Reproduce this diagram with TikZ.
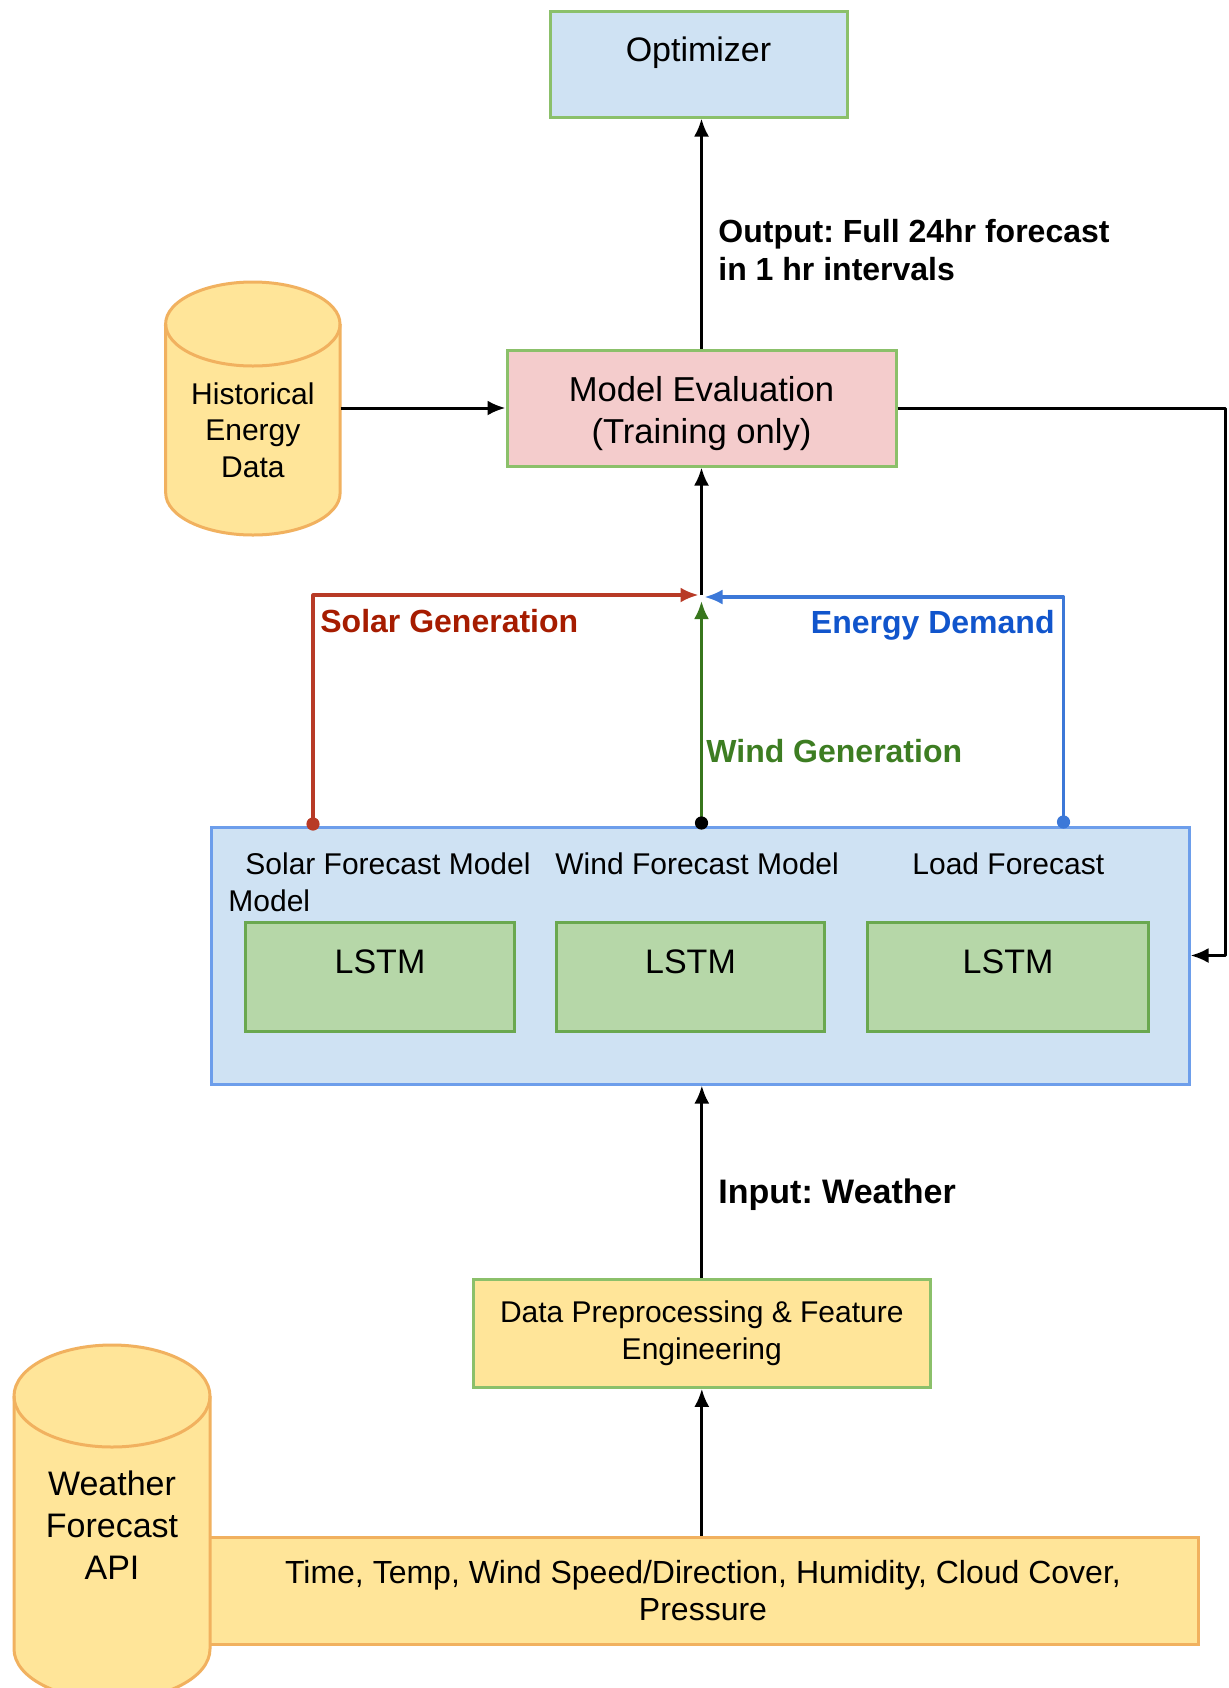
\documentclass[tikz,border=0pt]{standalone}
\usepackage{fontspec}
\setmainfont{Liberation Sans}
\usetikzlibrary{arrows.meta,calc}

\definecolor{lightblue}{HTML}{CFE2F3}
\definecolor{greenedge}{HTML}{8BC06A}
\definecolor{pinkfill}{HTML}{F4CCCC}
\definecolor{groupedge}{HTML}{6D9EEB}
\definecolor{lstmfill}{HTML}{B6D7A8}
\definecolor{lstmedge}{HTML}{6AA84F}
\definecolor{yellowfill}{HTML}{FFE599}
\definecolor{orangeedge}{HTML}{F1B15F}
\definecolor{solarline}{HTML}{B83A26}
\definecolor{solartext}{HTML}{A61C00}
\definecolor{loadline}{HTML}{3C78D8}
\definecolor{loadtext}{HTML}{1155CC}
\definecolor{windline}{HTML}{38761D}
\definecolor{windtext}{HTML}{3D7D22}

\tikzset{
  box/.style={draw, rectangle, line width=1.5pt, inner sep=0pt},
  lstm/.style={box, fill=lstmfill, draw=lstmedge, minimum height=54.35pt},
  cyl/.style={fill=yellowfill, draw=orangeedge, line width=1.5pt},
  conn/.style={line width=1.5pt, line join=round, -{Latex[length=9pt,width=7.5pt]}},
  flow/.style={line width=1.6pt, line join=round, -{Latex[length=9pt,width=7.5pt]}},
  lbl/.style={inner sep=0pt, font=\bfseries\fontsize{16}{18.8}\selectfont},
  big/.style={font=\fontsize{17}{21}\selectfont},
  plain/.style={inner sep=0pt, font=\fontsize{15}{18.5}\selectfont}
}

\begin{document}
\frenchspacing
\begin{tikzpicture}[x=0.5pt, y=-0.5pt]
\useasboundingbox (0,0) rectangle (1228,1688);
\fill[white] (0,0) rectangle (1228,1688);

% top: optimizer and evaluation
\node[box, fill=lightblue, draw=greenedge, minimum width=148.5pt, minimum height=53pt,
      label={[name=opttext, inner sep=0pt, yshift=5.5pt, big]center:Optimizer}] (opt) at (698.5,64) {};
\node[box, fill=pinkfill, draw=greenedge, minimum width=194.5pt, minimum height=58pt] (eval) at (701.5,408) {};
\node[inner sep=0pt, align=center, font=\fontsize{17.3}{21}\selectfont] (evaltext) at (701.5,413.5)
      {Model Evaluation\\(Training only)};

% historical data store
\node[minimum width=87.2pt, minimum height=126.5pt, inner sep=0pt] (hist) at (252.9,408.5) {};
\path[cyl] (165.7,324) -- (165.7,493)
  arc[start angle=180, end angle=360, x radius=43.6pt, y radius=21pt]
  -- (340,324)
  arc[start angle=0, end angle=180, x radius=43.6pt, y radius=21pt] -- cycle;
\draw[draw=orangeedge, line width=1.5pt] (165.7,324)
  arc[start angle=180, end angle=360, x radius=43.6pt, y radius=21pt];
\node[plain, align=center, font=\fontsize{15}{18.3}\selectfont] (histtext) at (252.9,430)
  {Historical\\Energy\\Data};

% forecasting models group
\node[box, fill=lightblue, draw=groupedge, minimum width=489pt, minimum height=128.5pt] (models) at (700,955.5) {};
\node[plain, anchor=west, align=left] (solarname) at (228,882.5)
  {\hspace*{8.5pt}Solar Forecast Model\\Model};
\node[plain, anchor=west] (windname) at (555,864) {Wind Forecast Model};
\node[plain, anchor=west] (loadname) at (912,864) {Load Forecast};

\node[lstm, minimum width=134.5pt,
      label={[name=lstmAtext, inner sep=0pt, yshift=7.5pt, big]center:LSTM}] (lstmA) at (380,976.8) {};
\node[lstm, minimum width=134pt,
      label={[name=lstmBtext, inner sep=0pt, yshift=7.5pt, big]center:LSTM}] (lstmB) at (690.5,976.8) {};
\node[lstm, minimum width=140.5pt,
      label={[name=lstmCtext, inner sep=0pt, yshift=7.5pt, big]center:LSTM}] (lstmC) at (1008,976.8) {};

% preprocessing and raw inputs
\node[box, fill=yellowfill, draw=greenedge, minimum width=228.2pt, minimum height=53.8pt,
      align=center, font=\fontsize{15}{18.3}\selectfont] (prep) at (701.8,1333.5)
      {Data Preprocessing \& Feature\\Engineering};
\node[box, fill=yellowfill, draw=orangeedge, minimum width=495pt, minimum height=53.8pt,
      align=center, font=\fontsize{16}{18.3}\selectfont] (inputs) at (703,1590.8)
      {Time, Temp, Wind Speed/Direction, Humidity, Cloud Cover,\\Pressure};

% weather API store
\node[minimum width=98pt, minimum height=177.5pt, inner sep=0pt] (wapi) at (112,1522.5) {};
\path[cyl] (14,1396) -- (14,1649)
  arc[start angle=180, end angle=360, x radius=49pt, y radius=25.5pt]
  -- (210,1396)
  arc[start angle=0, end angle=180, x radius=49pt, y radius=25.5pt] -- cycle;
\draw[draw=orangeedge, line width=1.5pt] (14,1396)
  arc[start angle=180, end angle=360, x radius=49pt, y radius=25.5pt];
\node[inner sep=0pt, align=center, big] (wapitext) at (112,1525)
  {Weather\\Forecast\\API};

% connectors
\coordinate (J) at (701.5,595);
\coordinate (Jb) at (701.5,597);
\coordinate (Jw) at (701.5,601);
\coordinate (rt) at (1225,955.5);
\coordinate (sdot) at (313,824);
\coordinate (wdot) at (701.5,823);
\coordinate (ldot) at (1063.5,822);

\draw[conn] (inputs.north -| prep.south) -- (prep.south);
\draw[conn] (prep.north) -- (prep.north |- models.south);
\draw[conn] (hist.east |- eval.west) -- (eval.west);
\draw[conn] (J) -- (eval.south);
\draw[conn] (eval.north) -- (eval.north |- opt.south);
\draw[conn] (eval.east) -| (rt) -- (models.east);

\draw[flow, solarline, shorten >=1.5pt] (sdot) |- (J);
\draw[flow, loadline, shorten >=1.5pt] (ldot) |- (Jb);
\draw[flow, windline] (wdot) -- (Jw);

\fill[solarline] (sdot) circle[radius=3.3pt];
\fill[black] (wdot) circle[radius=3.3pt];
\fill[loadline] (ldot) circle[radius=3.3pt];

% connector labels
\node[lbl, anchor=west, align=left] (outlbl) at (718,250)
  {Output: Full 24hr forecast\\in 1 hr intervals};
\node[lbl, text=solartext, anchor=west] (solarlbl) at (320,621) {Solar Generation};
\node[lbl, text=loadtext, anchor=east] (loadlbl) at (1055,625) {Energy Demand};
\node[lbl, text=windtext, anchor=west] (windlbl) at (706,751) {Wind Generation};
\node[lbl, anchor=west, font=\bfseries\fontsize{17}{20}\selectfont] (inlbl) at (718,1195) {Input: Weather};
\end{tikzpicture}
\end{document}
